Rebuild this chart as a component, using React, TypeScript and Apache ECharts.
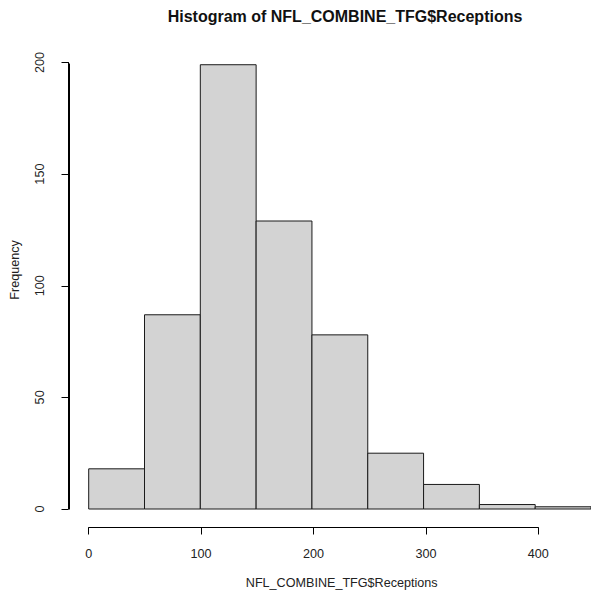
import React, { useEffect, useRef } from "react";
import * as echarts from "echarts";

const binStarts = [0, 50, 100, 150, 200, 250, 300, 350, 400];
const binWidth = 50;
const frequencies = [18, 87, 199, 129, 78, 25, 11, 2, 1];
const xTickInterval = 100;
const yTickInterval = 50;
const yMax = 200;
const chartTitle = "Histogram of NFL_COMBINE_TFG$Receptions";
const xTitle = "NFL_COMBINE_TFG$Receptions";
const yTitle = "Frequency";

const FONT = "'Liberation Sans', Arial, Helvetica, sans-serif";
const SMALL = 12.6;

export default function App() {
  const ref = useRef<HTMLDivElement>(null);
  useEffect(() => {
    if (!ref.current) return;
    const chart = echarts.init(ref.current, undefined, { renderer: "svg" });
    const data = binStarts.map((s, i) => [s, s + binWidth, frequencies[i]]);
    const left = 88.7;
    const top = 62.5;
    const pxPerX = 1.124;
    const plotH = 446.5;
    const axisCommon = {
      axisTick: { show: true, length: 7, lineStyle: { color: "#000", width: 1 } },
      splitLine: { show: false },
    };
    chart.setOption({
      animation: false,
      backgroundColor: "#ffffff",
      textStyle: { fontFamily: FONT },
      grid: [
        // data grid
        { left, top, width: 450 * pxPerX, height: plotH, containLabel: false },
        // x-axis display grid (bottom edge at the R axis position)
        { left, top, width: 400 * pxPerX, height: plotH + 18.5, containLabel: false },
        // y-axis display grid (left edge at the R axis position)
        { left: 68.5, top, width: 20, height: plotH, containLabel: false },
      ],
      xAxis: [
        { gridIndex: 0, type: "value", min: 0, max: 450, show: false },
        {
          ...axisCommon,
          gridIndex: 1,
          type: "value",
          min: 0,
          max: 400,
          interval: xTickInterval,
          position: "bottom",
          axisLine: { show: true, onZero: false, lineStyle: { color: "#000", width: 1 } },
          axisLabel: { margin: 20, fontSize: SMALL, color: "#222", fontFamily: FONT },
        },
        { gridIndex: 2, type: "value", min: 0, max: 1, show: false },
      ],
      yAxis: [
        { gridIndex: 0, type: "value", min: 0, max: yMax, show: false },
        { gridIndex: 1, type: "value", min: 0, max: yMax, show: false },
        {
          ...axisCommon,
          gridIndex: 2,
          type: "value",
          min: 0,
          max: yMax,
          interval: yTickInterval,
          position: "left",
          axisLine: { show: true, onZero: false, lineStyle: { color: "#000", width: 1 } },
          axisLabel: { margin: 22, fontSize: SMALL, color: "#222", rotate: 90, fontFamily: FONT },
        },
      ],
      series: [
        {
          type: "custom",
          xAxisIndex: 0,
          yAxisIndex: 0,
          clip: false,
          data,
          renderItem: (params: any, api: any) => {
            const x0 = api.value(0);
            const x1 = api.value(1);
            const y = api.value(2);
            const p0 = api.coord([x0, 0]);
            const p1 = api.coord([x1, y]);
            return {
              type: "rect",
              shape: {
                x: p0[0],
                y: p1[1],
                width: p1[0] - p0[0],
                height: p0[1] - p1[1],
              },
              style: { fill: "#d3d3d3", stroke: "#1a1a1a", lineWidth: 1 },
            };
          },
        },
      ],
      graphic: [
        {
          type: "text",
          x: 345,
          y: 16,
          style: {
            text: chartTitle,
            fontFamily: FONT,
            fontSize: 16,
            fontWeight: "bold",
            fill: "#111",
            textAlign: "center",
            textVerticalAlign: "middle",
          },
        },
        {
          type: "text",
          x: 341.7,
          y: 583,
          style: {
            text: xTitle,
            fontFamily: FONT,
            fontSize: SMALL,
            fill: "#222",
            textAlign: "center",
            textVerticalAlign: "middle",
          },
        },
        {
          type: "text",
          x: 15,
          y: 270,
          rotation: Math.PI / 2,
          style: {
            text: yTitle,
            fontFamily: FONT,
            fontSize: SMALL,
            fill: "#222",
            textAlign: "center",
            textVerticalAlign: "middle",
          },
        },
      ],
    });
    // y axis line, positioned through the library's own scale
    const pBottom = chart.convertToPixel({ xAxisIndex: 2, yAxisIndex: 2 }, [0, 0]) as number[];
    const pTop = chart.convertToPixel({ xAxisIndex: 2, yAxisIndex: 2 }, [0, yMax]) as number[];
    if (pBottom && pTop) {
      const x = Math.round(pBottom[0]) + 0.5;
      chart.setOption({
        graphic: [
          {
            id: "yAxisLine",
            type: "line",
            shape: { x1: x, y1: Math.round(pBottom[1]) + 0.5, x2: x, y2: Math.round(pTop[1]) + 0.5 },
            style: { stroke: "#000", lineWidth: 1 },
            z: 10,
          },
        ],
      });
    }
    return () => chart.dispose();
  }, []);
  return (
    <div
      ref={ref}
      style={{ position: "absolute", left: 0, top: 0, width: 591, height: 591 }}
    />
  );
}
